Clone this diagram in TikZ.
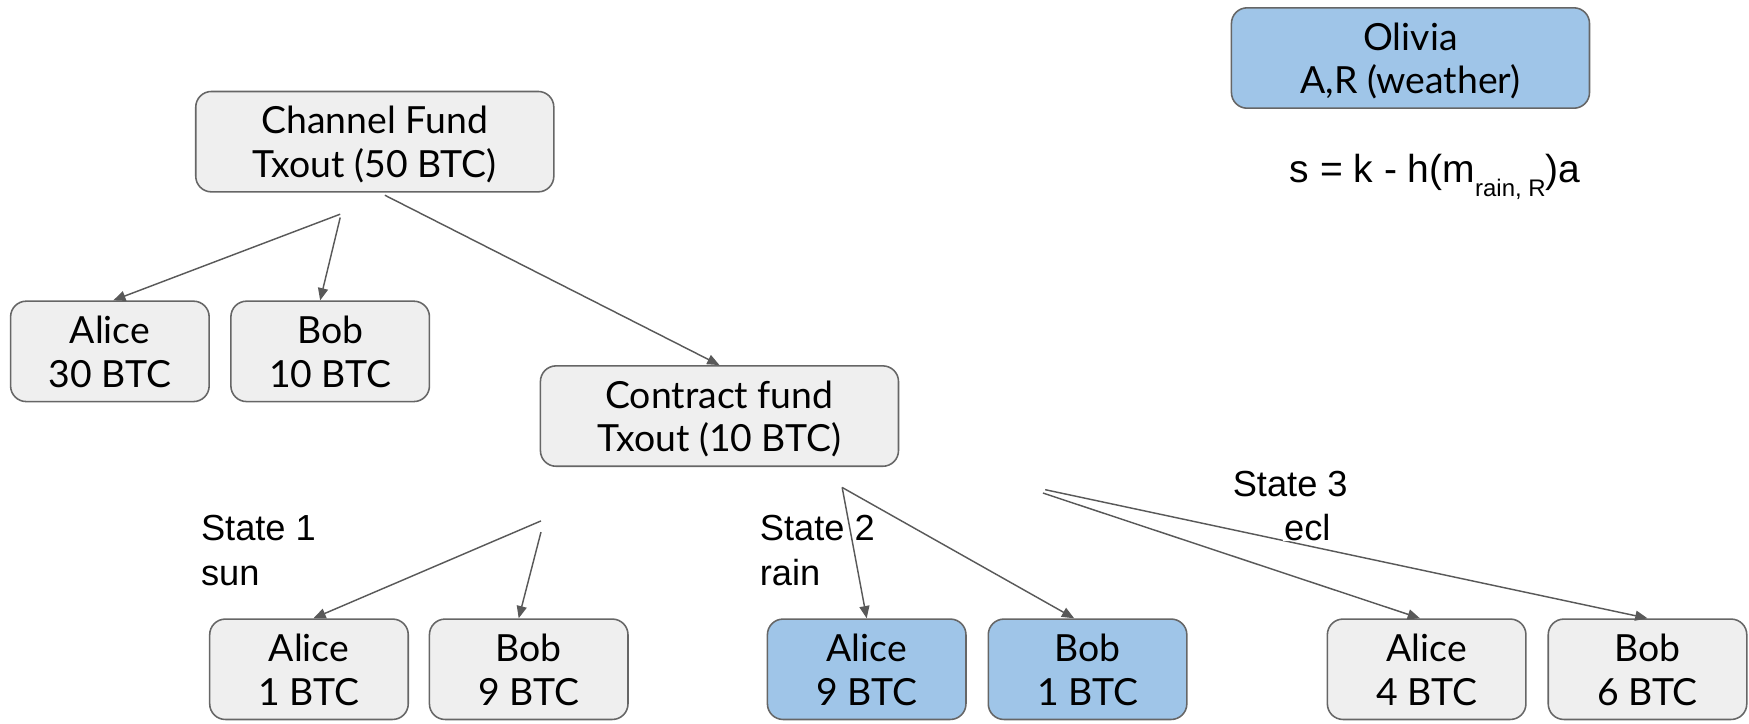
\documentclass[tikz,border=0pt]{standalone}
\usepackage{fontspec}
\setmainfont{Liberation Sans}
\newfontfamily\boxfont{Lato}
\usetikzlibrary{arrows.meta}
\definecolor{boxgray}{HTML}{EFEFEF}
\definecolor{boxblue}{HTML}{9FC5E8}
\definecolor{edgegray}{HTML}{666666}
\definecolor{linegray}{HTML}{595959}
\newcommand\twoline[2]{\raisebox{-5pt}[\height][\depth]{\begin{tabular}{@{}c@{}}#1\\[1pt]#2\end{tabular}}}
\tikzset{
  box/.style={draw=edgegray, line width=1.4pt, fill=boxgray, rounded corners=14pt,
    minimum width=178pt, minimum height=90pt, inner sep=0pt, align=center,
    font=\boxfont\fontsize{33.5}{38}\selectfont},
  wide/.style={box, minimum width=321pt},
  bluebox/.style={fill=boxblue},
  lbl/.style={inner sep=0pt, anchor=base west, font=\fontsize{32.5}{38}\selectfont},
  arr/.style={draw=linegray, line width=1.3pt, -{Triangle[length=11pt,width=9pt]}},
}
\begin{document}
\begin{tikzpicture}[x=1pt,y=-1pt]
\useasboundingbox (0,0) rectangle (1568,649);
% boxes
\node[wide] (cf) at (336,127) {\twoline{Channel Fund}{Txout (50 BTC)}};
\node[box] (a30) at (98.5,315) {\twoline{Alice}{30 BTC}};
\node[box] (b10) at (296,315) {\twoline{Bob}{10 BTC}};
\node[wide] (ctf) at (645,373) {\twoline{Contract fund}{Txout (10 BTC)}};
\node[wide,bluebox] (oli) at (1264.5,52) {\twoline{Olivia}{A,R (weather)}};
\node[box] (a1) at (277,600) {\twoline{Alice}{1 BTC}};
\node[box] (b9) at (474,600) {\twoline{Bob}{9 BTC}};
\node[box,bluebox] (a9) at (777,600) {\twoline{Alice}{9 BTC}};
\node[box,bluebox] (b1) at (975,600) {\twoline{Bob}{1 BTC}};
\node[box] (a4) at (1279,600) {\twoline{Alice}{4 BTC}};
\node[box] (b6) at (1477,600) {\twoline{Bob}{6 BTC}};
% formula
\node[lbl, font=\fontsize{35}{38}\selectfont] (form) at (1156,164) {s = k - h(m\raisebox{-12pt}{\fontsize{21.5}{21.5}\selectfont rain, R})a};
% connector start points
\coordinate (cfA) at (305,192);
\coordinate (cfB) at (305,195);
\coordinate (cfC) at (345,175);
\coordinate (s1a) at (485,467);
\coordinate (s1b) at (485,477);
\coordinate (s2) at (755,437);
\coordinate (s3a) at (937,439);
\coordinate (s3b) at (935,442);
% connectors
\draw[arr] (cfA) -- ([xshift=3pt]a30.north);
\draw[arr] (cfB) -- ([xshift=-9pt]b10.north);
\draw[arr] (cfC) -- (ctf.north);
\draw[arr] (s1a) -- ([xshift=4pt]a1.north);
\draw[arr] (s1b) -- ([xshift=-9pt]b9.north);
\draw[arr] (s2) -- (a9.north);
\draw[arr] (s2) -- ([xshift=-12pt]b1.north);
\draw[arr] (s3a) -- (b6.north);
\draw[arr] (s3b) -- ([xshift=-6pt]a4.north);
% state labels
\node[lbl] (st1) at (180,485) {State 1};
\node[lbl] (st1b) at (180,525) {sun};
\node[lbl] (st2) at (681,485) {State 2};
\node[lbl] (st2b) at (681,525) {rain};
\node[lbl] (st3) at (1105,445) {State 3};
\node[lbl, fill=white, inner xsep=1pt] (st3b) at (1150,485) {ecl};
\end{tikzpicture}
\end{document}
